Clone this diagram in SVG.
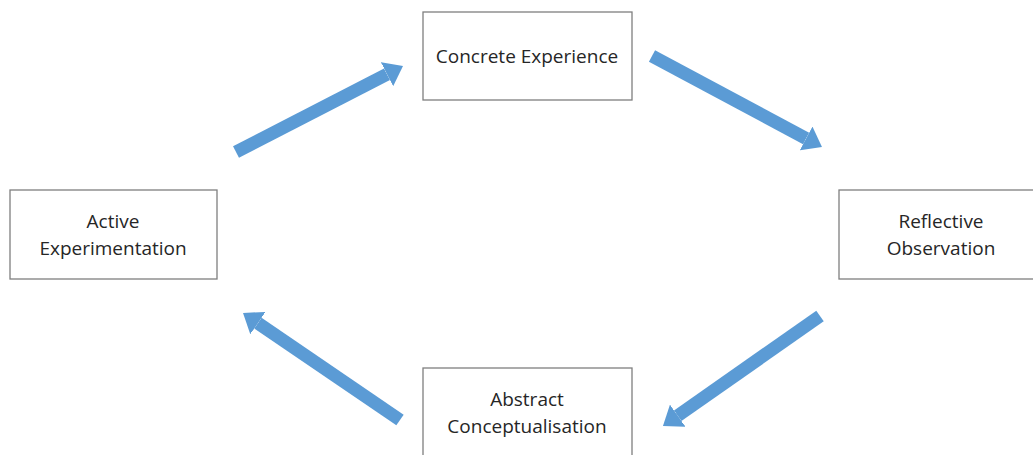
<svg xmlns="http://www.w3.org/2000/svg" width="1033" height="455" viewBox="0 0 1033 455">
<style>
.box{fill:#fff;stroke:#7f7f7f;stroke-width:1.3}
.lbl{font-family:"Open Sans","Liberation Sans",Arial,sans-serif;font-size:19px;fill:#262626;text-anchor:middle}
.arr{stroke:#5b9bd5;stroke-width:13;fill:none}
</style>
<defs>
<marker id="ah" markerUnits="userSpaceOnUse" viewBox="0 0 18 27" refX="0" refY="13.5" markerWidth="18" markerHeight="27" orient="auto">
<path d="M0,0 L18,13.5 L0,27 z" fill="#5b9bd5"/>
</marker>
</defs>
<rect width="1033" height="455" fill="#fff"/>
<g id="connectors">
<line class="arr" x1="236" y1="152" x2="387" y2="74.2" marker-end="url(#ah)"/>
<line class="arr" x1="652" y1="56" x2="806.1" y2="138.5" marker-end="url(#ah)"/>
<line class="arr" x1="820" y1="316" x2="677.7" y2="415.7" marker-end="url(#ah)"/>
<line class="arr" x1="400" y1="420" x2="257.9" y2="323.1" marker-end="url(#ah)"/>
</g>
<g id="concrete">
<rect class="box" x="423" y="12" width="209" height="88"/>
<text class="lbl" x="527" y="63">Concrete Experience</text>
</g>
<g id="reflective">
<rect class="box" x="839" y="190" width="200" height="89"/>
<text class="lbl" x="941" y="228">Reflective</text>
<text class="lbl" x="941" y="255">Observation</text>
</g>
<g id="abstract">
<rect class="box" x="423" y="368" width="209" height="95"/>
<text class="lbl" x="527" y="406">Abstract</text>
<text class="lbl" x="527" y="433">Conceptualisation</text>
</g>
<g id="active">
<rect class="box" x="10" y="190" width="207" height="89"/>
<text class="lbl" x="113" y="228">Active</text>
<text class="lbl" x="113" y="255">Experimentation</text>
</g>
</svg>
